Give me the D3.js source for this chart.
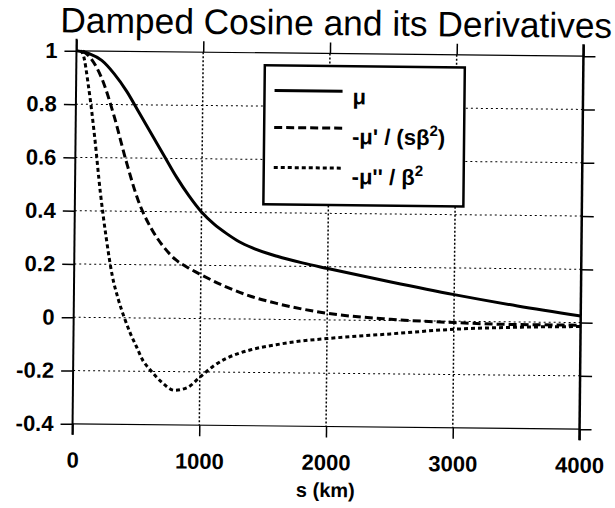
<!DOCTYPE html>
<html><head><meta charset="utf-8">
<script src="https://cdn.jsdelivr.net/npm/d3@7"></script>
<style>body{margin:0;background:#fff;} svg{display:block;}</style>
</head><body>
<svg id="c" width="615" height="508"></svg>
<script>
const title = "Damped Cosine and its Derivatives";
const xLabel = "s (km)";
const xTicks = [0, 1000, 2000, 3000, 4000];
const yTicks = [-0.4, -0.2, 0, 0.2, 0.4, 0.6, 0.8, 1];
const yTickLabels = ["-0.4", "-0.2", "0", "0.2", "0.4", "0.6", "0.8", "1"];

const sMu = [0,100,200,300,400,500,600,700,800,900,1000,1100,1200,1300,1400,1600,1800,2000,2500,3000,3500,4000];
const mu  = [1.0,0.99,0.965,0.915,0.85,0.77,0.69,0.61,0.53,0.46,0.40,0.355,0.32,0.29,0.268,0.237,0.213,0.193,0.145,0.10,0.06,0.025];

const sD1 = [50,100,200,300,400,500,600,700,800,900,1000,1200,1400,1600,1800,2000,2500,3000,3500,4000];
const d1  = [1.0,0.98,0.90,0.76,0.59,0.44,0.34,0.27,0.22,0.19,0.165,0.12,0.085,0.06,0.04,0.025,0.005,-0.005,-0.01,-0.01];

const sD2 = [30,50,100,150,200,250,300,350,400,450,500,550,600,700,800,900,1000,1100,1200,1300,1400,1600,1800,2000,2500,3000,3500,4000];
const d2  = [1.0,0.99,0.86,0.68,0.47,0.30,0.16,0.07,0.0,-0.06,-0.11,-0.16,-0.19,-0.24,-0.27,-0.26,-0.22,-0.18,-0.15,-0.13,-0.115,-0.095,-0.08,-0.07,-0.05,-0.03,-0.02,-0.015];

const legendLabels = ["\u03bc", "-\u03bc' / (s\u03b2\u00b2)", "-\u03bc'' / \u03b2\u00b2"];

const svg = d3.select("#c");
const g = svg.append("g").attr("transform", "rotate(0.6,328,240)");
const L = 74.5, R = 581.5, T = 53.5, B = 426.5;
const x = d3.scaleLinear().domain([0, 4000]).range([L, R]);
const y = d3.scaleLinear().domain([-0.4, 1]).range([B, T]);
const font = "'Liberation Sans', Arial, Helvetica, sans-serif";

// grid
g.append("g").selectAll("line").data(yTicks.slice(1, -1)).join("line")
  .attr("x1", L).attr("x2", R).attr("y1", d => y(d)).attr("y2", d => y(d))
  .attr("stroke", "#000").attr("stroke-width", 1).attr("stroke-dasharray", "2,3");
g.append("g").selectAll("line").data(xTicks.slice(1, -1)).join("line")
  .attr("y1", T).attr("y2", B).attr("x1", d => x(d)).attr("x2", d => x(d))
  .attr("stroke", "#000").attr("stroke-width", 1.5).attr("stroke-dasharray", "2,2");

// axes via d3 axis
const axB = g.append("g").attr("transform", `translate(0,${B})`)
  .call(d3.axisBottom(x).tickValues(xTicks).tickSize(11).tickPadding(17).tickFormat(d3.format("d")));
const axT = g.append("g").attr("transform", `translate(0,${T})`)
  .call(d3.axisTop(x).tickValues(xTicks).tickSize(11).tickFormat(""));
const axL = g.append("g").attr("transform", `translate(${L},0)`)
  .call(d3.axisLeft(y).tickValues(yTicks).tickSize(12).tickPadding(7).tickFormat((d, i) => yTickLabels[i]));
const axR = g.append("g").attr("transform", `translate(${R},0)`)
  .call(d3.axisRight(y).tickValues(yTicks).tickSize(12).tickFormat(""));
[axB, axT, axL, axR].forEach(a => {
  a.select(".domain").remove();
  a.selectAll(".tick line").attr("stroke", "#000").attr("stroke-width", 1.5);
  a.selectAll("text").attr("font-family", font).attr("font-size", 22).attr("font-weight", "bold").attr("fill", "#000");
});
// frame
g.append("line").attr("x1", L).attr("x2", R).attr("y1", T).attr("y2", T).attr("stroke", "#000").attr("stroke-width", 1.2);
g.append("line").attr("x1", L).attr("x2", R).attr("y1", B).attr("y2", B).attr("stroke", "#000").attr("stroke-width", 1.2);
g.append("line").attr("x1", L).attr("x2", L).attr("y1", T - 12).attr("y2", B + 11).attr("stroke", "#000").attr("stroke-width", 2);
g.append("line").attr("x1", R).attr("x2", R).attr("y1", T - 12).attr("y2", B + 11).attr("stroke", "#000").attr("stroke-width", 2.5);

// curves
const line = d3.line().curve(d3.curveMonotoneX);
function drawCurve(sArr, vArr, dash) {
  g.append("path").datum(sArr.map((s, i) => [x(s), y(vArr[i])]))
    .attr("d", line).attr("fill", "none").attr("stroke", "#000").attr("stroke-width", 3)
    .attr("stroke-dasharray", dash);
}
drawCurve(sMu, mu, null);
drawCurve(sD1, d1, "8,4");
drawCurve(sD2, d2, "4,3");

// legend
const lg = g.append("g");
lg.append("rect").attr("x", 263).attr("y", 66).attr("width", 200).attr("height", 139)
  .attr("fill", "#fff").attr("stroke", "#000").attr("stroke-width", 2.5);
const dashes = [null, "8,4", "4,3"];
const ly = [91, 128, 168];
const ty = [104, 144, 184];
legendLabels.forEach((lab, i) => {
  lg.append("line").attr("x1", 273).attr("x2", 341).attr("y1", ly[i]).attr("y2", ly[i])
    .attr("stroke", "#000").attr("stroke-width", 3).attr("stroke-dasharray", dashes[i]);
});
const lt = lg.selectAll("text.lt").data(legendLabels).join("text")
  .attr("x", 351).attr("y", (d, i) => ty[i])
  .attr("font-family", font).attr("font-size", 22).attr("font-weight", "bold");
lt.each(function(d) {
  const t = d3.select(this);
  const m = d.match(/^(.*?)(\u00b2)(\)?)$/);
  if (m) {
    t.append("tspan").text(m[1]);
    t.append("tspan").text("2").attr("dy", -9).attr("font-size", 15);
    if (m[3]) t.append("tspan").text(m[3]).attr("dy", 9);
  } else t.text(d);
});

// title
const tt = g.append("text").attr("x", 334).attr("y", 35).attr("text-anchor", "middle")
  .attr("font-family", font).attr("font-size", 32).text(title);
const w = tt.node().getComputedTextLength();
tt.attr("font-size", 32 * 552 / w);

// x label
g.append("text").attr("x", 328).attr("y", 497).attr("text-anchor", "middle")
  .attr("font-family", font).attr("font-size", 20).attr("font-weight", "bold").text(xLabel);
</script>
</body></html>
